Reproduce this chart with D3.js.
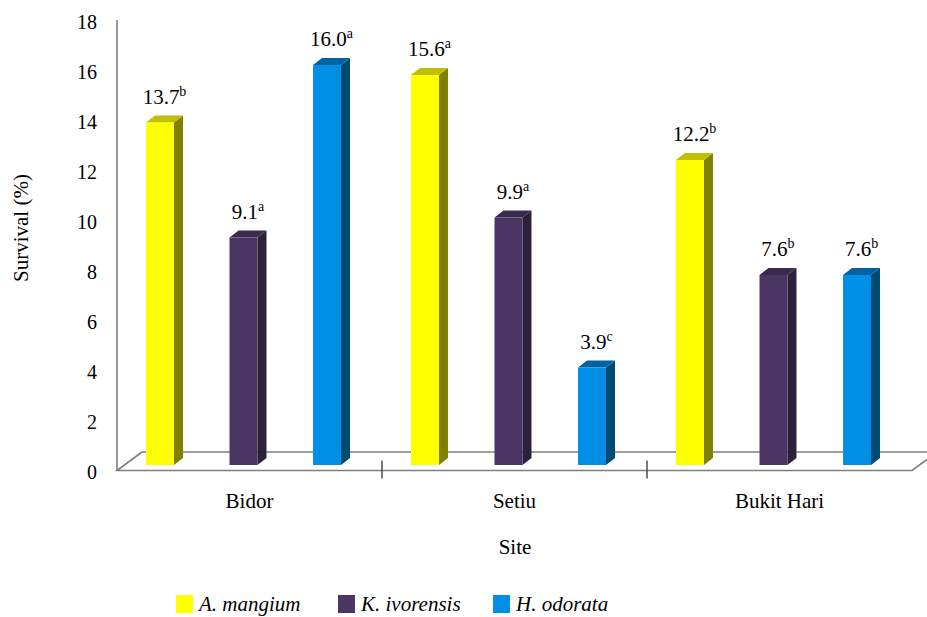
<!DOCTYPE html>
<html>
<head>
<meta charset="utf-8">
<script src="https://cdn.jsdelivr.net/npm/d3@7"></script>
</head>
<body style="margin:0;background:#fff">
<svg id="chart" width="927" height="617"></svg>
<script>
// data
const sites = ['Bidor', 'Setiu', 'Bukit Hari']
const species = ['A. mangium', 'K. ivorensis', 'H. odorata']
const mangium = [13.7, 15.6, 12.2]
const ivorensis = [9.1, 9.9, 7.6]
const odorata = [16.0, 3.9, 7.6]
const mangiumLetters = ['b', 'a', 'b']
const ivorensisLetters = ['a', 'a', 'b']
const odorataLetters = ['a', 'c', 'b']
const yTicks = [0, 2, 4, 6, 8, 10, 12, 14, 16, 18]

const seriesValues = [mangium, ivorensis, odorata]
const seriesLetters = [mangiumLetters, ivorensisLetters, odorataLetters]

const FONT = "'Liberation Serif', Tinos, 'Times New Roman', serif"

// front, side, top colours for the fake 3D bars
const colours = [
    { front: '#ffff00', side: '#808000', top: '#bfbf00' },
    { front: '#4b3663', side: '#2c213b', top: '#3a2a4e' },
    { front: '#008fe6', side: '#004a73', top: '#0062a0' },
]

const svg = d3.select('#chart')

const x0 = d3.scaleBand().domain(sites).range([117, 912])
const x1 = d3
    .scaleBand()
    .domain(species)
    .range([29, 224])
    .paddingInner(0.665)
    .paddingOuter(0)
const y = d3.scaleLinear().domain([0, 18]).range([465, 15])

const depthX = 9,
    depthY = 7
const floorDX = 25,
    floorDY = 18.5
const floorFront = 470.5
const gridColour = '#7f7f7f'

// floor and walls
const floor = svg.append('g').attr('fill', 'none').attr('stroke', gridColour).attr('stroke-width', 1.6)
floor
    .append('path')
    .attr('d', `M${x0.range()[0] + floorDX},${floorFront - floorDY} L${x0.range()[0]},${floorFront} L${x0.range()[1]},${floorFront} L${x0.range()[1] + floorDX},${floorFront - floorDY}`)
floor
    .append('line')
    .attr('x1', x0.range()[0] + floorDX)
    .attr('x2', 940)
    .attr('y1', floorFront - floorDY)
    .attr('y2', floorFront - floorDY)
floor
    .append('line')
    .attr('x1', x0.range()[0])
    .attr('x2', x0.range()[0])
    .attr('y1', y(18) + 5)
    .attr('y2', floorFront)

// category ticks between sites
svg.append('g')
    .selectAll('line')
    .data(sites.slice(1))
    .join('line')
    .attr('x1', d => x0(d))
    .attr('x2', d => x0(d))
    .attr('y1', floorFront - 10)
    .attr('y2', floorFront + 8)
    .attr('stroke', '#404040')
    .attr('stroke-width', 1.4)

// y tick labels
svg.append('g')
    .selectAll('text')
    .data(yTicks)
    .join('text')
    .attr('x', 97)
    .attr('y', d => y(d) + 7)
    .attr('dy', '0.35em')
    .attr('text-anchor', 'end')
    .attr('font-size', 20)
    .text(d => d)

// bars
const bars = []
sites.forEach((s, i) => {
    species.forEach((sp, j) => {
        bars.push({ site: s, sp, j, value: seriesValues[j][i], letter: seriesLetters[j][i] })
    })
})

const barG = svg
    .append('g')
    .selectAll('g')
    .data(bars)
    .join('g')
    .attr('transform', d => `translate(${x0(d.site) + x1(d.sp)},0)`)

const bw = x1.bandwidth()

barG.append('path')
    .attr('fill', d => colours[d.j].side)
    .attr('d', d => `M${bw},${y(d.value)} L${bw + depthX},${y(d.value) - depthY} L${bw + depthX},${y(0) - depthY} L${bw},${y(0)} Z`)
barG.append('path')
    .attr('fill', d => colours[d.j].top)
    .attr('d', d => `M0,${y(d.value)} L${depthX},${y(d.value) - depthY} L${bw + depthX},${y(d.value) - depthY} L${bw},${y(d.value)} Z`)
barG.append('rect')
    .attr('fill', d => colours[d.j].front)
    .attr('x', 0)
    .attr('width', bw)
    .attr('y', d => y(d.value))
    .attr('height', d => y(0) - y(d.value))

// value labels with superscript letters
const lab = barG
    .append('text')
    .attr('x', (bw + depthX) / 2)
    .attr('y', d => y(d.value) - depthY - 12)
    .attr('text-anchor', 'middle')
    .attr('font-size', 21)
lab.append('tspan').text(d => d.value.toFixed(1))
lab.append('tspan')
    .attr('font-size', 14)
    .attr('dy', -8)
    .text(d => d.letter)

// x labels
svg.append('g')
    .selectAll('text')
    .data(sites)
    .join('text')
    .attr('x', d => x0(d) + x0.bandwidth() / 2)
    .attr('y', 508)
    .attr('text-anchor', 'middle')
    .attr('font-size', 21)
    .text(d => d)

svg.append('text')
    .attr('x', 515)
    .attr('y', 554)
    .attr('text-anchor', 'middle')
    .attr('font-size', 21)
    .text('Site')

svg.append('text')
    .attr('transform', 'translate(28,228) rotate(-90)')
    .attr('text-anchor', 'middle')
    .attr('font-size', 21)
    .text('Survival (%)')

// legend
const legendX = [176, 338, 493]
const leg = svg
    .append('g')
    .selectAll('g')
    .data(species)
    .join('g')
    .attr('transform', (d, i) => `translate(${legendX[i]},595)`)
leg.append('rect')
    .attr('width', 17)
    .attr('height', 18)
    .attr('fill', (d, i) => colours[i].front)
leg.append('text')
    .attr('x', 23)
    .attr('y', 16)
    .attr('font-size', 21)
    .attr('font-style', 'italic')
    .text(d => d)

// force the serif face on every label, even over injected rules
svg.selectAll('text, tspan').style('font-family', FONT, 'important')
</script>
</body>
</html>
